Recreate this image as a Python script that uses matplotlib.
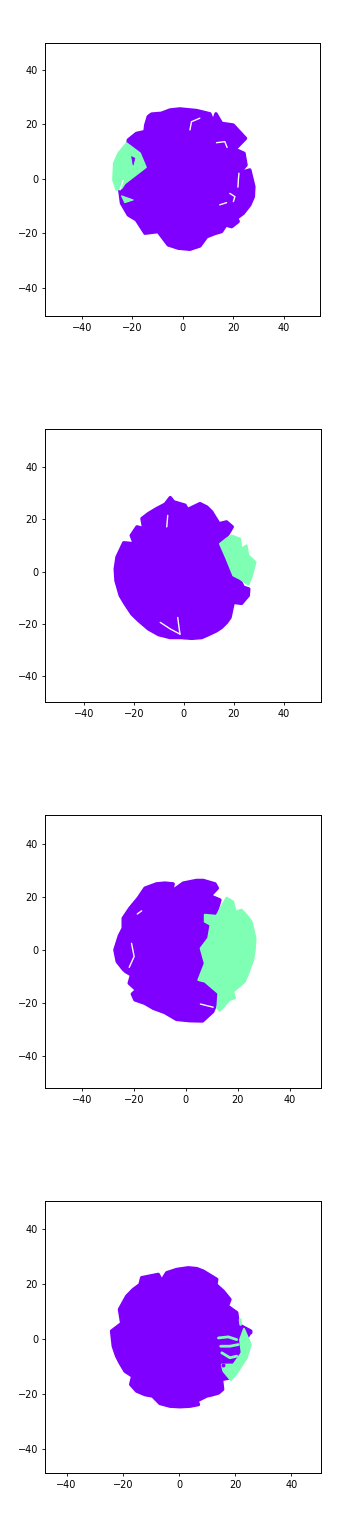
import matplotlib
matplotlib.use("Agg")
import matplotlib.pyplot as plt

purple = "#7f00ff"
green = "#7fffb4"
ticks = [-40, -20, 0, 20, 40]

# panel 1
p1_x = [-1.2, 5.4, 10.7, 12.0, 13.1, 15.3, 19.9, 24.8, 20.6, 24.2, 25.0, 22.2, 26.5, 28.1, 27.9, 26.5, 23.9, 21.3, 21.9, 19.3, 17.0, 15.3, 12.7, 9.4, 6.7, 2.8, -1.8, -5.8, -9.8, -15.0, -18.4, -21.6, -24.3, -25.0, -23.0, -21.6, -18.4, -15.0, -14.7, -13.7, -12.4, -8.5, -5.1]
p1_y = [25.7, 25.1, 23.9, 20.8, 23.9, 20.4, 19.8, 14.9, 10.9, 9.4, 5.1, 2.1, 3.3, -2.8, -6.5, -9.5, -12.6, -14.4, -15.6, -17.5, -16.9, -19.3, -20.0, -21.2, -24.6, -25.8, -25.4, -24.2, -19.3, -19.9, -15.0, -13.2, -8.9, -4.0, -1.0, 14.3, 16.7, 17.4, 19.8, 22.9, 23.8, 24.1, 25.3]
g1_x = [-22.3, -17.0, -14.7, -23.0, -24.3, -26.3, -27.6, -27.3, -25.6]
g1_y = [13.1, 9.4, 4.3, -1.6, -3.4, -4.0, -0.4, 5.8, 9.4]
g1b_x = [-24.3, -19.7, -23.0]
g1b_y = [-6.2, -7.7, -8.7]
s1_x = [-20.3, -19.0, -19.7]
s1_y = [8.2, 7.6, 5.1]
cracks1 = [([2.8, 3.4, 6.7], [18.0, 21.0, 22.3]),
           ([13.3, 16.6, 17.5], [13.3, 13.7, 11.6]),
           ([14.6, 17.3], [-9.5, -8.7]),
           ([18.6, 20.6, 20.0], [-5.3, -6.5, -8.3]),
           ([22.2, 22.0, 21.8], [2.1, 0.0, -3.0]),
           ([-23.6, -24.9], [-0.4, -4.0])]

# panel 2
p2_x = [-5.4, -4.1, 0.5, 1.5, 6.5, 9.2, 11.2, 12.2, 14.1, 17.1, 19.4, 17.8, 14.5, 19.1, 22.5, 23.8, 26.0, 25.8, 23.1, 19.8, 18.5, 17.1, 15.1, 13.1, 9.8, 7.2, 3.2, -1.0, -5.4, -10.0, -14.1, -18.0, -20.7, -23.4, -25.4, -27.1, -27.4, -26.7, -24.0, -19.7, -21.0, -18.7, -16.0, -16.7, -14.1, -10.8, -7.4]
p2_y = [28.3, 26.7, 25.4, 23.7, 26.0, 24.7, 22.8, 21.2, 18.3, 19.0, 17.1, 14.5, 10.6, -0.9, -3.5, -6.0, -6.7, -9.2, -12.2, -11.8, -17.6, -19.5, -21.4, -22.7, -24.2, -25.3, -25.6, -25.3, -25.3, -24.2, -22.0, -18.8, -16.3, -12.4, -9.2, -3.5, 1.0, 5.5, 11.0, 10.6, 13.8, 17.1, 16.4, 20.3, 22.2, 24.1, 25.8]
g2_x = [14.5, 17.1, 19.1, 22.5, 23.1, 25.1, 25.8, 28.7, 27.1, 25.8, 22.5, 19.8, 17.1]
g2_y = [10.6, 12.6, 13.8, 12.6, 8.7, 10.0, 6.2, 3.6, -2.2, -5.0, -2.8, -1.5, 4.9]
cracks2 = [([-9.4, -5.4, -1.5], [-19.5, -22.0, -24.0]),
           ([-2.4, -1.9, -1.5], [-17.6, -21.4, -24.0]),
           ([-6.4, -6.8], [21.5, 17.1])]

# panel 3
p3_x = [-4.9, -5.5, -1.0, 4.1, 6.7, 11.2, 12.1, 9.3, 13.1, 11.6, 14.4, 12.4, 11.5, 10.3, 6.4, 1.5, -3.6, -8.1, -12.5, -15.8, -19.6, -20.6, -18.9, -21.8, -20.9, -23.1, -24.1, -26.4, -27.3, -25.6, -24.1, -24.1, -21.5, -18.3, -15.7, -11.3, -8.1]
p3_y = [25.0, 22.1, 25.3, 26.3, 26.3, 25.0, 23.4, 20.5, 18.9, 13.9, 2.5, -16.4, -20.5, -23.4, -26.9, -26.8, -26.3, -23.7, -22.1, -20.2, -18.9, -16.7, -15.2, -12.6, -9.5, -8.2, -7.3, -4.4, 0.0, 5.3, 8.2, 12.0, 15.8, 19.6, 23.4, 25.0, 25.3]
g3_x = [7.3, 11.8, 13.7, 15.7, 18.2, 19.1, 21.4, 23.3, 25.3, 26.8, 26.5, 25.9, 24.0, 22.7, 20.5, 18.2, 18.9, 16.9, 13.1, 12.1, 12.5, 7.3, 4.8, 7.3, 5.7, 8.6, 9.5, 7.3]
g3_y = [13.3, 12.9, 16.4, 19.8, 18.3, 14.5, 15.2, 13.3, 10.7, 4.4, 0.0, -3.8, -8.9, -12.0, -13.9, -15.8, -18.3, -18.9, -23.0, -22.1, -16.4, -12.0, -11.4, -5.1, 0.6, 4.4, 9.5, 10.7]
cracks3 = [([-20.9, -19.9, -21.8], [2.5, -2.5, -6.6]),
           ([5.6, 10.5], [-20.5, -21.7]),
           ([-18.7, -17.0], [13.6, 14.8])]

# panel 4
p4_x = [3.3, 6.3, 8.6, 13.4, 13.1, 15.7, 18.1, 17.2, 20.5, 21.1, 25.5, 21.7, 18.1, 15.1, 15.5, 14.0, 11.6, 9.8, 6.3, 6.9, 3.9, 0.3, -3.2, -6.8, -9.4, -12.1, -15.1, -17.2, -16.5, -19.2, -21.0, -22.2, -23.4, -24.0, -20.4, -21.2, -18.6, -16.3, -13.9, -13.3, -7.4, -6.2, -4.4, -0.8]
p4_y = [25.7, 25.4, 24.5, 21.5, 19.6, 17.2, 14.2, 11.8, 9.4, 5.1, 2.7, -4.0, -14.3, -14.9, -18.5, -19.8, -20.5, -20.9, -22.7, -24.0, -24.6, -24.8, -24.6, -23.6, -20.9, -20.4, -19.1, -16.7, -13.7, -11.9, -8.8, -6.4, -2.8, 2.7, 5.5, 10.6, 15.4, 17.8, 19.6, 22.1, 23.3, 20.9, 23.9, 25.1]
g4_x = [23.1, 25.5, 24.1, 20.5, 18.4, 15.8, 15.2, 19.3, 22.3, 21.7]
g4_y = [3.5, -2.2, -7.0, -12.7, -15.1, -11.9, -9.5, -9.5, -5.2, -0.4]
streaks4 = [([14.0, 17.5, 20.5], [0.2, 0.6, -0.4]),
            ([14.8, 18.1, 21.1], [-2.8, -2.8, -2.2]),
            ([15.2, 18.1, 20.5], [-5.2, -7.0, -6.4]),
            ([21.7, 21.9], [6.9, 5.1])]
dots4_x = [16.4, 15.8, 25.2]
dots4_y = [-7.0, -9.5, 2.4]

fig = plt.figure(figsize=(3.57, 15.13), dpi=100)
W, H = 357, 1513


def make_axes(left, top, right, bottom, xlim, ylim):
    ax = fig.add_axes([left / W, 1 - bottom / H, (right - left) / W, (bottom - top) / H])
    ax.set_xlim(xlim)
    ax.set_ylim(ylim)
    ax.set_xticks(ticks)
    ax.set_yticks(ticks)
    ax.tick_params(labelsize=7, length=2.5, width=0.6, pad=2.5)
    for s in ax.spines.values():
        s.set_linewidth(0.7)
    return ax


def blob(ax, x, y, color, lw=2.5):
    # thick round edge rounds off the corners like the big scatter markers do
    ax.fill(x, y, color=color, linewidth=lw, joinstyle="round")


def cracks(ax, lines):
    for x, y in lines:
        ax.plot(x, y, color="white", linewidth=1.0, solid_capstyle="round")


ax1 = make_axes(45, 43, 320, 316, (-54.6, 54.3), (-50.3, 49.9))
blob(ax1, p1_x, p1_y, purple)
blob(ax1, g1_x, g1_y, green, 1.5)
blob(ax1, g1b_x, g1b_y, green, 0.8)
blob(ax1, s1_x, s1_y, purple, 0.5)
cracks(ax1, cracks1)

ax2 = make_axes(45, 429, 321, 702, (-55.5, 54.9), (-50.0, 54.6))
blob(ax2, p2_x, p2_y, purple)
blob(ax2, g2_x, g2_y, green, 1.5)
cracks(ax2, cracks2)

ax3 = make_axes(45, 815, 321, 1088, (-54.2, 52.0), (-52.3, 51.1))
blob(ax3, p3_x, p3_y, purple)
blob(ax3, g3_x, g3_y, green, 1.5)
cracks(ax3, cracks3)

ax4 = make_axes(45, 1201, 321, 1473, (-47.7, 50.5), (-48.9, 50.0))
blob(ax4, p4_x, p4_y, purple)
blob(ax4, g4_x, g4_y, green, 1.5)
for x, y in streaks4:
    ax4.plot(x, y, color=green, linewidth=2.0, solid_capstyle="round")
ax4.scatter(dots4_x, dots4_y, s=8, color=purple, linewidths=0)

fig.savefig("out.png", dpi=100)
